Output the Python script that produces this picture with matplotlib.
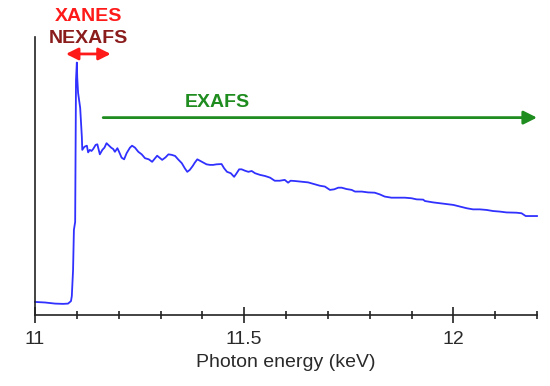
import matplotlib
matplotlib.use("Agg")
import matplotlib.pyplot as plt
from matplotlib.ticker import MultipleLocator

plt.rcParams["font.family"] = ["Liberation Sans", "DejaVu Sans"]

# Photon energy (keV) and normalised absorption
energy_kev = [
    11.000, 11.024, 11.048, 11.067, 11.079, 11.086, 11.088, 11.091, 11.093, 11.096,
    11.097, 11.098, 11.100, 11.101, 11.103, 11.108, 11.112, 11.113, 11.118, 11.124,
    11.127, 11.131, 11.135, 11.139, 11.145, 11.149, 11.155, 11.161, 11.166, 11.171,
    11.175, 11.182, 11.187, 11.191, 11.197, 11.201, 11.207, 11.213, 11.219, 11.227,
    11.232, 11.239, 11.247, 11.255, 11.263, 11.272, 11.280, 11.287, 11.292, 11.299,
    11.304, 11.312, 11.319, 11.327, 11.335, 11.342, 11.351, 11.358, 11.364, 11.370,
    11.377, 11.382, 11.388, 11.394, 11.402, 11.410, 11.418, 11.426, 11.434, 11.446,
    11.452, 11.459, 11.468, 11.476, 11.482, 11.488, 11.494, 11.502, 11.510, 11.518,
    11.526, 11.538, 11.550, 11.562, 11.573, 11.585, 11.597, 11.605, 11.611, 11.621,
    11.633, 11.653, 11.669, 11.681, 11.693, 11.705, 11.715, 11.725, 11.733, 11.745,
    11.757, 11.765, 11.781, 11.796, 11.812, 11.824, 11.836, 11.852, 11.868, 11.884,
    11.900, 11.912, 11.928, 11.932, 11.952, 11.968, 11.984, 12.000, 12.016, 12.032,
    12.047, 12.063, 12.079, 12.095, 12.111, 12.127, 12.151, 12.163, 12.173, 12.187,
    12.200,
]
absorption = [
    0.047, 0.045, 0.041, 0.040, 0.041, 0.050, 0.068, 0.162, 0.306, 0.335,
    0.594, 0.845, 0.908, 0.853, 0.799, 0.745, 0.640, 0.594, 0.605, 0.609,
    0.585, 0.594, 0.590, 0.597, 0.612, 0.614, 0.578, 0.594, 0.602, 0.618,
    0.612, 0.602, 0.597, 0.587, 0.600, 0.587, 0.566, 0.560, 0.582, 0.602,
    0.609, 0.602, 0.587, 0.578, 0.564, 0.560, 0.551, 0.564, 0.573, 0.564,
    0.558, 0.567, 0.578, 0.576, 0.572, 0.560, 0.546, 0.528, 0.515, 0.522,
    0.536, 0.548, 0.560, 0.555, 0.548, 0.542, 0.540, 0.540, 0.542, 0.543,
    0.528, 0.515, 0.510, 0.497, 0.510, 0.524, 0.524, 0.519, 0.515, 0.518,
    0.510, 0.504, 0.500, 0.494, 0.483, 0.483, 0.486, 0.476, 0.483, 0.482,
    0.480, 0.477, 0.470, 0.465, 0.462, 0.450, 0.452, 0.458, 0.458, 0.453,
    0.450, 0.444, 0.444, 0.441, 0.440, 0.434, 0.426, 0.422, 0.422, 0.422,
    0.420, 0.416, 0.415, 0.410, 0.405, 0.402, 0.399, 0.396, 0.390, 0.384,
    0.380, 0.380, 0.378, 0.374, 0.372, 0.369, 0.368, 0.366, 0.356, 0.356,
    0.356,
]

# region annotations: energy start / end of each arrow
xanes_span = (11.074, 11.181)
exafs_span = (11.163, 12.200)
major_ticks = [11, 11.5, 12]
tick_labels = ["11", "11.5", "12"]

fig = plt.figure(figsize=(5.5, 3.86), dpi=100)
ax = fig.add_axes([35 / 550, 1 - 315 / 386, 502 / 550, 278 / 386])

ax.plot(energy_kev, absorption, color="#3030ff", lw=1.3, clip_on=False)

ax.set_xlim(11, 12.2)
ax.set_ylim(0, 1)

for side in ["top", "right"]:
    ax.spines[side].set_visible(False)
for side in ["left", "bottom"]:
    ax.spines[side].set_color("#222222")
    ax.spines[side].set_linewidth(1.2)

ax.set_yticks([])
ax.set_xticks(major_ticks)
ax.set_xticklabels(tick_labels)
ax.xaxis.set_minor_locator(MultipleLocator(0.1))
ax.tick_params(axis="x", which="major", direction="inout", length=11, width=1.2,
               color="#222222", labelsize=14, labelcolor="#2a2a2a", pad=6)
ax.tick_params(axis="x", which="minor", direction="inout", length=6, width=1.2,
               color="#222222")
ax.set_xlabel("Photon energy (keV)", fontsize=14, color="#2a2a2a", labelpad=4)

# XANES / NEXAFS double arrow
ax.annotate("", xy=(xanes_span[0], 0.939), xytext=(xanes_span[1], 0.939),
            xycoords="data", annotation_clip=False,
            arrowprops=dict(arrowstyle="<|-|>", color="#ff1a1a", lw=2,
                            mutation_scale=18, shrinkA=0, shrinkB=0))
xmid = (xanes_span[0] + xanes_span[1]) / 2
ax.text(xmid, 1.072, "XANES", color="#ff1a1a", fontsize=14, fontweight="bold",
        ha="center", va="center", clip_on=False)
ax.text(xmid, 0.996, "NEXAFS", color="#8b1c1c", fontsize=14, fontweight="bold",
        ha="center", va="center", clip_on=False)

# EXAFS arrow
ax.annotate("", xy=(exafs_span[1], 0.710), xytext=(exafs_span[0], 0.710),
            xycoords="data", annotation_clip=False,
            arrowprops=dict(arrowstyle="-|>", color="#1e8c1e", lw=2,
                            mutation_scale=20, shrinkA=0, shrinkB=0))
ax.text(11.435, 0.766, "EXAFS", color="#1e8c1e", fontsize=14, fontweight="bold",
        ha="center", va="center")

fig.savefig("out.png", dpi=100)
